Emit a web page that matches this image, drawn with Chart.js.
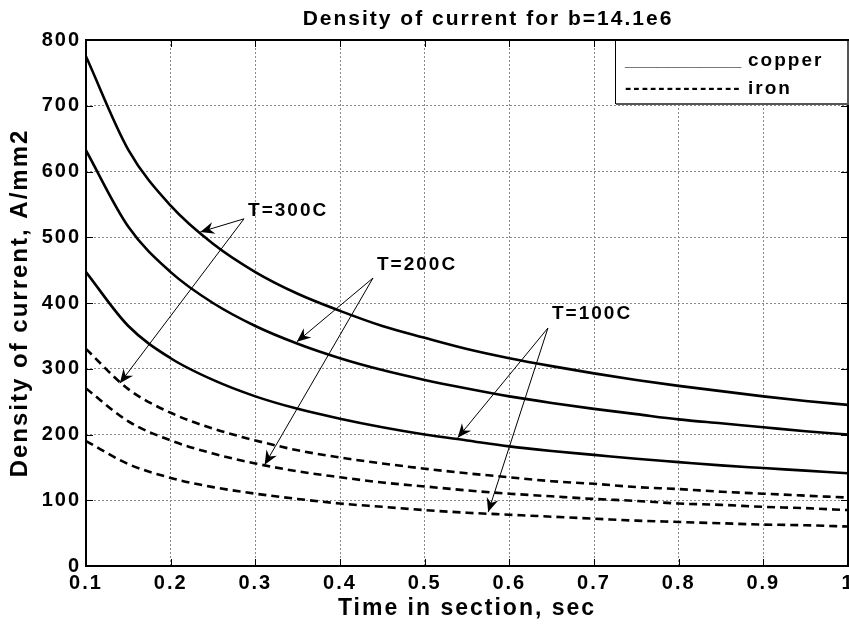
<!DOCTYPE html>
<html><head><meta charset="utf-8">
<script src="https://cdn.jsdelivr.net/npm/chart.js@4/dist/chart.umd.min.js"></script>
<style>html,body{margin:0;padding:0;background:#fff;}#wrap{width:849px;height:626px;}</style>
</head><body><div id="wrap"><canvas id="c" width="849" height="626"></canvas></div>
<script>
// ---- data ----
const timeValues = [0.1,0.15,0.2,0.25,0.3,0.35,0.4,0.45,0.5,0.55,0.6,0.65,0.7,0.75,0.8,0.85,0.9,0.95,1.0];
const copper300 = [775,633,548,490,447,414,388,365,347,330,316,304,293,283,274,266,258,251,245];
const copper200 = [632,516,447,400,365,338,316,298,283,270,258,248,239,231,223,217,211,205,200];
const copper100 = [447,365,316,283,258,239,224,211,200,191,182,175,169,163,158,153,149,145,141];
const iron300   = [330,269,233,209,191,176,165,156,148,141,135,129,125,120,117,113,110,107,104];
const iron200   = [270,220,191,171,156,144,135,127,121,115,110,106,102,99,95,93,90,88,85];
const iron100   = [190,155,134,120,110,102,95,90,85,81,78,75,72,69,67,65,63,62,60];
const xTickValues = [0.1,0.2,0.3,0.4,0.5,0.6,0.7,0.8,0.9,1];
const xTickLabels = ['0.1','0.2','0.3','0.4','0.5','0.6','0.7','0.8','0.9','1'];
const yTickValues = [0,100,200,300,400,500,600,700,800];
const yTickLabels = ['0','100','200','300','400','500','600','700','800'];
const chartTitle = 'Density of current for b=14.1e6';
const xAxisTitle = 'Time in section, sec';
const yAxisTitle = 'Density of current, A/mm2';
const legendSamples = ['___________', '--------------'];
const legendLabels = ['copper', 'iron'];
// annotation labels: text, label anchor (data), arrow origin (data), arrow tips (data)
const annoTexts = ['T=300C', 'T=200C', 'T=100C'];
const annoLabelAt = [[0.2914, 540], [0.4437, 458], [0.6504, 383]];
const annoOrigins = [[0.2866, 528], [0.439, 438], [0.6456, 362]];
const annoTips = [
  [[0.235, 508], [0.140, 278]],
  [[0.349, 341], [0.311, 154]],
  [[0.539, 195], [0.575, 82]]
];

const FONT = '"Liberation Sans", Arial, sans-serif';
const SPACING = '2px';
function pts(arr){ return timeValues.map((t,i)=>({x:t, y:arr[i]})); }
function ds(label, arr, dashed){
  return {label, data: pts(arr), borderColor:'#000', backgroundColor:'#000', borderWidth:2.6,
    borderDash: dashed ? [8,5] : [], pointRadius:0, fill:false, cubicInterpolationMode:'monotone'};
}

function arrowHead(ctx, x0, y0, x1, y1){
  const ang = Math.atan2(y1-y0, x1-x0);
  const L = 14, W = 6, N = 4.5;
  ctx.save();
  ctx.translate(x1, y1); ctx.rotate(ang);
  ctx.beginPath();
  ctx.moveTo(0,0); ctx.lineTo(-L, -W); ctx.lineTo(-L+N, 0); ctx.lineTo(-L, W); ctx.closePath();
  ctx.fillStyle = '#000'; ctx.fill();
  ctx.restore();
}

const spacingPlugin = {
  id:'spacing',
  beforeUpdate(chart){ chart.ctx.letterSpacing = SPACING; },
  beforeDraw(chart){ chart.ctx.letterSpacing = SPACING; }
};

const decorPlugin = {
  id:'decor',
  afterDraw(chart){
    const {ctx, chartArea:a, scales:{x, y}} = chart;
    ctx.save();
    ctx.letterSpacing = SPACING;
    // title (sits slightly right of the axes centre, as in the picture)
    ctx.fillStyle = '#000';
    ctx.font = 'bold 21px ' + FONT;
    ctx.textAlign = 'center'; ctx.textBaseline = 'alphabetic';
    ctx.fillText(chartTitle, (a.left + a.right) / 2 + 21, 25);

    ctx.strokeStyle = '#000'; ctx.lineWidth = 1; ctx.setLineDash([]);
    const TL = 7;
    ctx.beginPath();
    xTickValues.forEach(v=>{ const px = Math.round(x.getPixelForValue(v))+0.5;
      ctx.moveTo(px, a.bottom); ctx.lineTo(px, a.bottom-TL);
      ctx.moveTo(px, a.top); ctx.lineTo(px, a.top+TL); });
    yTickValues.forEach(v=>{ const py = Math.round(y.getPixelForValue(v))+0.5;
      ctx.moveTo(a.left, py); ctx.lineTo(a.left+TL, py);
      ctx.moveTo(a.right, py); ctx.lineTo(a.right-TL, py); });
    ctx.stroke();
    ctx.lineWidth = 2;
    ctx.strokeRect(a.left, a.top, a.right-a.left, a.bottom-a.top);

    // annotations
    ctx.lineWidth = 1;
    ctx.font = 'bold 19px ' + FONT;
    ctx.textBaseline = 'middle'; ctx.textAlign = 'left';
    annoTexts.forEach((t,i)=>{
      const ox = x.getPixelForValue(annoOrigins[i][0]), oy = y.getPixelForValue(annoOrigins[i][1]);
      annoTips[i].forEach(tp=>{
        const tx = x.getPixelForValue(tp[0]), ty = y.getPixelForValue(tp[1]);
        ctx.beginPath(); ctx.moveTo(ox, oy); ctx.lineTo(tx, ty); ctx.stroke();
        arrowHead(ctx, ox, oy, tx, ty);
      });
      ctx.fillText(t, x.getPixelForValue(annoLabelAt[i][0]), y.getPixelForValue(annoLabelAt[i][1]));
    });

    // legend box
    const lw = 233, lh = 64;
    const lx = a.right - lw, ly = a.top;
    ctx.fillStyle = '#fff';
    ctx.fillRect(lx, ly, lw, lh);
    ctx.strokeStyle = '#000'; ctx.lineWidth = 1;
    ctx.strokeRect(lx+0.5, ly+0.5, lw-1, lh-1);
    ctx.strokeStyle = '#555'; ctx.lineWidth = 2;
    ctx.beginPath(); ctx.moveTo(lx+1, ly+lh); ctx.lineTo(lx+lw, ly+lh); ctx.lineTo(lx+lw, ly+1); ctx.stroke();
    ctx.fillStyle = '#000';
    ctx.font = 'bold 19px ' + FONT;
    ctx.textAlign = 'left'; ctx.textBaseline = 'middle';
    ctx.fillText(legendLabels[0], lx+133, ly+21);
    ctx.fillText(legendLabels[1], lx+133, ly+49);
    ctx.fillText(legendSamples[1], lx+10, ly+49);
    ctx.letterSpacing = '0px';
    ctx.fillStyle = '#444';
    ctx.fillText(legendSamples[0], lx+10, ly+21);
    ctx.restore();
  }
};

const tickFont = {family: FONT, size: 20, weight: 'bold'};
new Chart(document.getElementById('c'), {
  type: 'line',
  data: { datasets: [
    ds('copper T=300C', copper300, false),
    ds('copper T=200C', copper200, false),
    ds('copper T=100C', copper100, false),
    ds('iron T=300C', iron300, true),
    ds('iron T=200C', iron200, true),
    ds('iron T=100C', iron100, true)
  ]},
  options: {
    responsive: false, animation: false, devicePixelRatio: 1,
    layout: { padding: { top: 40, right: 1, left: 0, bottom: 0 } },
    plugins: {
      legend: { display: false }, tooltip: { enabled: false }, title: { display: false }
    },
    scales: {
      x: { type: 'linear', position: 'bottom', min: 0.1, max: 1,
        afterBuildTicks(s){ s.ticks = xTickValues.map(v=>({value:v})); },
        afterFit(s){ s.height = 60; s.paddingLeft = 0; s.paddingRight = 0; },
        ticks: { autoSkip: false, maxRotation: 0, color: '#000', font: tickFont, padding: 5,
          callback: (v, i) => xTickLabels[i] },
        grid: { color: '#8a8a8a', lineWidth: 1, drawTicks: false },
        border: { display: false, dash: [2, 2] },
        title: { display: true, text: xAxisTitle, color: '#000',
          font: {family: FONT, size: 23, weight: 'bold'}, padding: {top: 0, bottom: 4} }
      },
      y: { type: 'linear', position: 'left', min: 0, max: 800,
        afterBuildTicks(s){ s.ticks = yTickValues.map(v=>({value:v})); },
        afterFit(s){ s.width = 86; s.paddingTop = 0; s.paddingBottom = 0; },
        ticks: { autoSkip: false, color: '#000', font: tickFont, padding: 5,
          callback: (v, i) => yTickLabels[i] },
        grid: { color: '#8a8a8a', lineWidth: 1, drawTicks: false },
        border: { display: false, dash: [2, 2] },
        title: { display: true, text: yAxisTitle, color: '#000',
          font: {family: FONT, size: 24, weight: 'bold'}, padding: {top: 6, bottom: 0} }
      }
    }
  },
  plugins: [spacingPlugin, decorPlugin]
});
</script></body></html>
